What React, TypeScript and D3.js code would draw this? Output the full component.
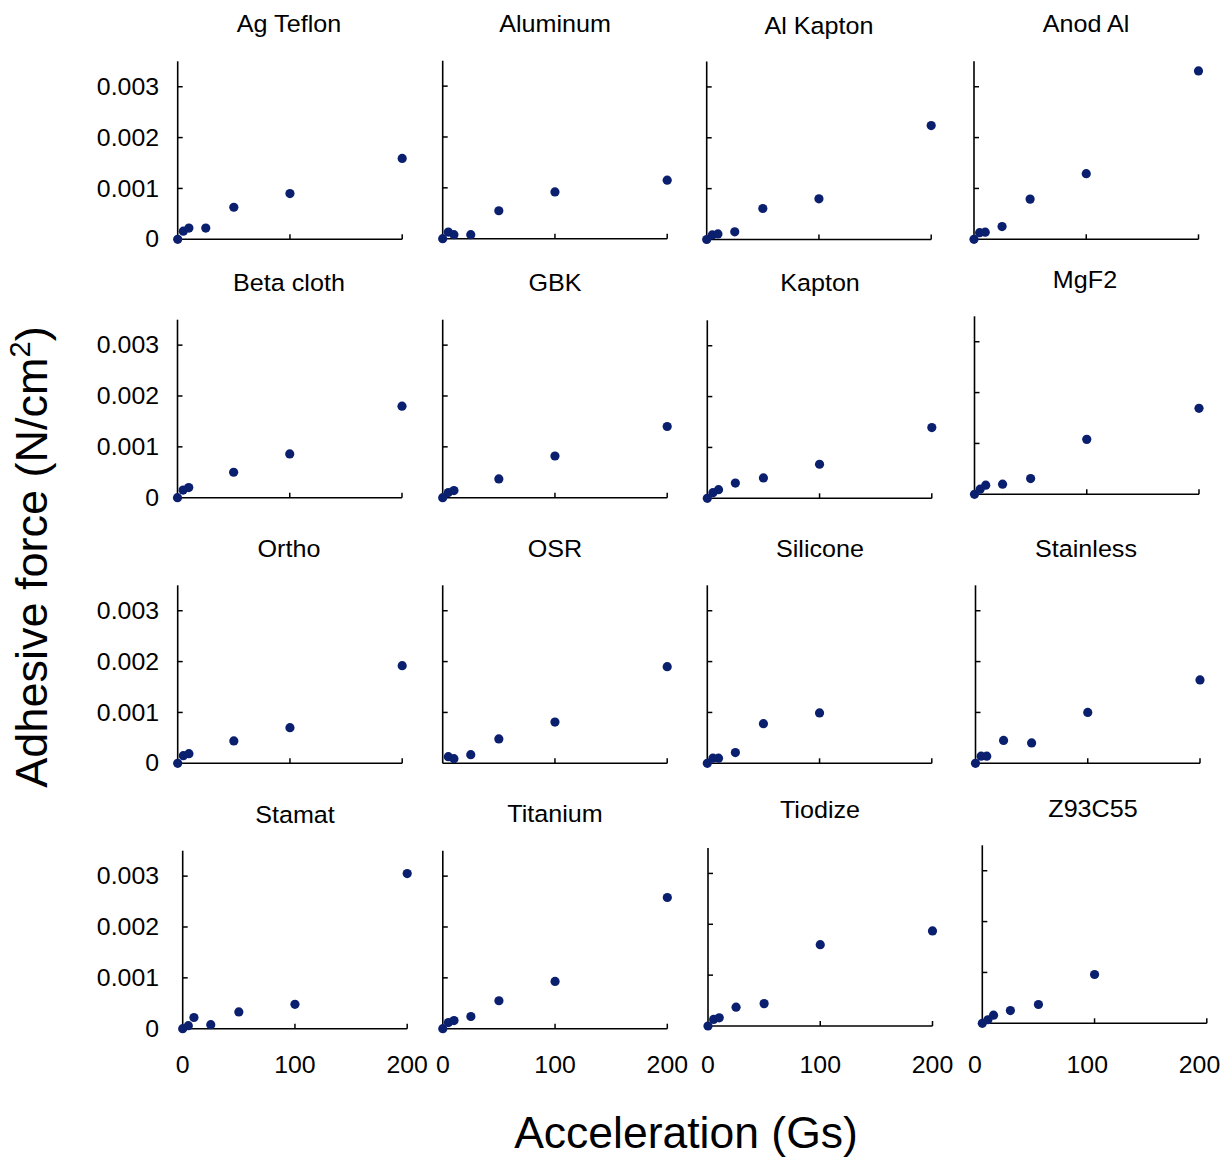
import React from "react";
import * as d3 from "d3";

// ---------- data ----------
const accel = [0, 5, 10, 25, 50, 100, 200];

const materials = [
  "Ag Teflon", "Aluminum", "Al Kapton", "Anod Al",
  "Beta cloth", "GBK", "Kapton", "MgF2",
  "Ortho", "OSR", "Silicone", "Stainless",
  "Stamat", "Titanium", "Tiodize", "Z93C55",
];

const agTeflon = [0, 0.00016, 0.00022, 0.00022, 0.00063, 0.0009, 0.00159];
const aluminum = [0, 0.00013, 0.00008, 0.00008, 0.00055, 0.00092, 0.00115];
const alKapton = [0, 0.00009, 0.00011, 0.00015, 0.00061, 0.0008, 0.00224];
const anodAl = [0, 0.00013, 0.00014, 0.00025, 0.00079, 0.00129, 0.00331];
const betaCloth = [0, 0.00015, 0.0002, null, 0.0005, 0.00086, 0.0018];
const gbk = [0, 0.0001, 0.00014, null, 0.00037, 0.00082, 0.0014];
const kapton = [0, 0.00011, 0.00017, 0.0003, 0.0004, 0.00067, 0.00139];
const mgf2 = [0, 0.0001, 0.00018, 0.0002, 0.00031, 0.00108, 0.00169];
const ortho = [0, 0.00015, 0.00019, null, 0.00044, 0.0007, 0.00192];
const osr = [null, 0.00013, 0.00009, 0.00017, 0.00048, 0.00081, 0.0019];
const silicone = [0, 0.0001, 0.0001, 0.00021, 0.00078, 0.00099, null];
const stainless = [0, 0.00014, 0.00014, 0.00045, 0.0004, 0.001, 0.00164];
const stamat = [0, 0.00006, 0.00022, 0.00008, 0.00033, 0.00048, 0.00305];
const titanium = [0, 0.00012, 0.00016, 0.00024, 0.00055, 0.00093, 0.00258];
const tiodize = [0, 0.00013, 0.00016, 0.00037, 0.00044, 0.0016, 0.00187];
const z93c55 = [0, 0.00007, 0.00016, 0.00025, 0.00037, 0.00096, null];

const forceSeries = [
  agTeflon, aluminum, alKapton, anodAl,
  betaCloth, gbk, kapton, mgf2,
  ortho, osr, silicone, stainless,
  stamat, titanium, tiodize, z93c55,
];

const yTicks = [0, 0.001, 0.002, 0.003];
const yTickLabels = ["0", "0.001", "0.002", "0.003"];
const xTicks = [0, 100, 200];
const xTickLabels = ["0", "100", "200"];
const xDomain = [0, 200];
const yDomain = [0, 0.0035];

// ---------- layout ----------
const W = 1229;
const H = 1158;
const plotW = 224.5;
const plotH = 178;

// pixel position of (0,0) for every panel
const panelOrigins = [
  [177.7, 239.3], [442.7, 238.7], [706.7, 239.5], [974, 239.3],
  [177.5, 497.7], [442.7, 497.7], [707.3, 498.3], [974.5, 494.3],
  [177.7, 763.3], [442.7, 763.3], [707.3, 763.3], [975.5, 763.3],
  [182.7, 1028.7], [442.8, 1028.7], [708, 1026], [982.3, 1023.3],
];
// title centre x and baseline y
const titlePos = [
  [289, 32], [555, 32], [819, 34], [1086, 32],
  [289, 291], [555, 291], [820, 291], [1085, 288],
  [289, 557], [555, 557], [820, 557], [1086, 557],
  [295, 823], [555, 822], [820, 818], [1093, 817],
];
const xLabelOrigins = [182.7, 442.8, 708, 975];
const xLabelY = 1065;
const yLabelRight = 159;

const dotColor = "#0b1f6f";
const fontFamily = "'Liberation Sans', Arial, Helvetica, sans-serif";

function StretchText({ x, y, children, anchor = "middle", size = 22, sx = 1.1, baseline = "auto" }) {
  return (
    <text
      transform={`translate(${x},${y}) scale(${sx},1)`}
      textAnchor={anchor}
      dominantBaseline={baseline}
      fontSize={size}
      fontFamily={fontFamily}
      fill="#000"
    >
      {children}
    </text>
  );
}

function Panel({ idx }) {
  const [ox, oy] = panelOrigins[idx];
  const x = d3.scaleLinear().domain(xDomain).range([ox, ox + plotW]);
  const y = d3.scaleLinear().domain(yDomain).range([oy, oy - plotH]);
  const values = forceSeries[idx];
  const col = idx % 4;
  const row = Math.floor(idx / 4);
  const pts = accel
    .map((a, i) => ({ a, v: values[i] }))
    .filter((d) => d.v !== null && d.v !== undefined);
  const [tx, ty] = titlePos[idx];
  const xl = d3
    .scaleLinear()
    .domain(xDomain)
    .range([xLabelOrigins[col], xLabelOrigins[col] + plotW]);

  return (
    <g>
      <StretchText x={tx} y={ty} size={23.5} sx={1.07}>
        {materials[idx]}
      </StretchText>
      {/* axes */}
      <line x1={x(0)} x2={x(0)} y1={y(0)} y2={y(yDomain[1])} stroke="#000" strokeWidth={1.6} />
      <line x1={x(0)} x2={x(200)} y1={y(0)} y2={y(0)} stroke="#000" strokeWidth={1.6} />
      {yTicks.slice(1).map((t) => (
        <line key={"yt" + t} x1={x(0)} x2={x(0) + 5} y1={y(t)} y2={y(t)} stroke="#000" strokeWidth={1.5} />
      ))}
      {xTicks.slice(1).map((t) => (
        <line key={"xt" + t} x1={x(t)} x2={x(t)} y1={y(0)} y2={y(0) - 5} stroke="#000" strokeWidth={1.5} />
      ))}
      {col === 0 &&
        yTicks.map((t, i) => (
          <StretchText key={"yl" + t} x={yLabelRight} y={y(t)} anchor="end" size={23} sx={1.08} baseline="central">
            {yTickLabels[i]}
          </StretchText>
        ))}
      {row === 3 &&
        xTicks.map((t, i) => (
          <StretchText key={"xl" + t} x={xl(t)} y={xLabelY} anchor="middle" size={23} sx={1.08} baseline="central">
            {xTickLabels[i]}
          </StretchText>
        ))}
      {pts.map((d, i) => (
        <circle key={i} cx={x(d.a)} cy={y(d.v)} r={4.6} fill={dotColor} />
      ))}
    </g>
  );
}

export default function App() {
  return (
    <svg
      width={W}
      height={H}
      viewBox={`0 0 ${W} ${H}`}
      style={{ position: "absolute", left: 0, top: 0, background: "#fff" }}
    >
      <rect x={0} y={0} width={W} height={H} fill="#fff" />
      {materials.map((m, i) => (
        <Panel key={m} idx={i} />
      ))}
      <text
        transform={`translate(47,557) rotate(-90)`}
        textAnchor="middle"
        fontSize={45}
        fontFamily={fontFamily}
        fill="#000"
      >
        Adhesive force (N/cm
        <tspan fontSize={29} dy={-17}>2</tspan>
        <tspan dy={17}>)</tspan>
      </text>
      <text x={686} y={1148} textAnchor="middle" fontSize={44.5} fontFamily={fontFamily} fill="#000">
        Acceleration (Gs)
      </text>
    </svg>
  );
}
